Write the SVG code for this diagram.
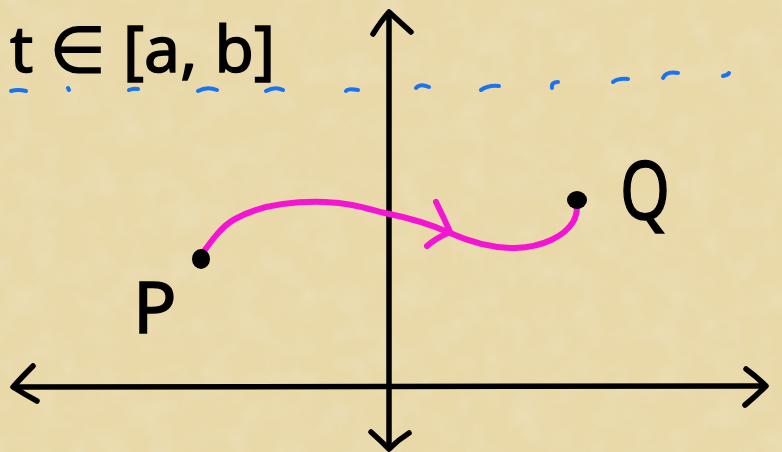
<svg xmlns="http://www.w3.org/2000/svg" width="782" height="452" viewBox="0 0 782 452">
  <defs>
    <filter id="paper" x="0" y="0" width="100%" height="100%">
      <feTurbulence type="fractalNoise" baseFrequency="0.035" numOctaves="4" seed="7" result="n"/>
      <feColorMatrix in="n" type="matrix" values="0 0 0 0 0.85  0 0 0 0 0.78  0 0 0 0 0.55  0 0 0 1.2 -0.45" result="c"/>
      <feComposite in="c" in2="SourceGraphic" operator="in"/>
    </filter>
    <style>
      .ink { fill: none; stroke: #000; stroke-width: 5.5; stroke-linecap: round; stroke-linejoin: round; }
      .hand { font-family: "Noto Sans", "DejaVu Sans", sans-serif; fill: #000; stroke: #000; stroke-width: 1.5; }
      .dash { fill: none; stroke: #1A74F2; stroke-width: 4; stroke-linecap: round; }
      .curve { fill: none; stroke: #F414D4; stroke-width: 6; stroke-linecap: round; stroke-linejoin: round; }
      .dot { fill: #000; }
    </style>
  </defs>

  <rect width="782" height="452" fill="#E9D8A8"/>
  <rect width="782" height="452" fill="#F0E2B6" filter="url(#paper)" opacity="0.7"/>

  <g id="axes">
    <path class="ink" d="M389,14 L389,448"/>
    <path class="ink" d="M373,34 Q381,21 389,12 Q400,22 411,32"/>
    <path class="ink" d="M371,432 Q381,441 389,449 Q398,440 409,433"/>
    <path class="ink" d="M14,387 L764,386"/>
    <path class="ink" d="M33,366 Q21,378 13,387 Q24,394 37,401"/>
    <path class="ink" d="M746,369 Q757,377 766,386 Q756,396 745,405"/>
  </g>

  <g id="interval-line">
    <path class="dash" d="M11,91 Q18,89 26,91"/>
    <path class="dash" d="M68,88 L69,90"/>
    <path class="dash" d="M129,90 Q133,88 138,89"/>
    <path class="dash" d="M198,91 Q207,86 217,90"/>
    <path class="dash" d="M266,91 Q275,86 283,90"/>
    <path class="dash" d="M346,91 Q348,88 358,90"/>
    <path class="dash" d="M416,88 Q420,83 429,87"/>
    <path class="dash" d="M481,90 Q488,85 499,86"/>
    <path class="dash" d="M552,88 Q551,82 558,82"/>
    <path class="dash" d="M613,82 Q618,78 628,79"/>
    <path class="dash" d="M663,78 Q666,71 678,73"/>
    <path class="dash" d="M723,76 Q728,75 729,73"/>
  </g>

  <g id="interval-label">
    <text class="hand" x="10" y="72" font-size="64" textLength="265" lengthAdjust="spacing">t ∈ [a, b]</text>
  </g>

  <g id="connectors">
    <path class="curve" d="M202,254 C212,240 222,226 235,219 C260,205 290,201 325,202 C350,203 365,208 385,213 C410,218 430,224 450,233 C470,242 490,248 515,248 C545,247 565,235 573,222 C576,217 577,212 577,206"/>
    <path class="curve" d="M436,202 Q444,218 450,232 Q436,238 427,246"/>
  </g>

  <g id="node-P">
    <ellipse class="dot" cx="201" cy="259" rx="9" ry="10"/>
    <text class="hand" x="133" y="333" font-size="72">P</text>
  </g>

  <g id="node-Q">
    <ellipse class="dot" cx="577" cy="200" rx="10" ry="9"/>
    <text class="hand" x="620" y="219" font-size="80" transform="translate(620 0) scale(0.8 1) translate(-620 0)">Q</text>
  </g>
</svg>
